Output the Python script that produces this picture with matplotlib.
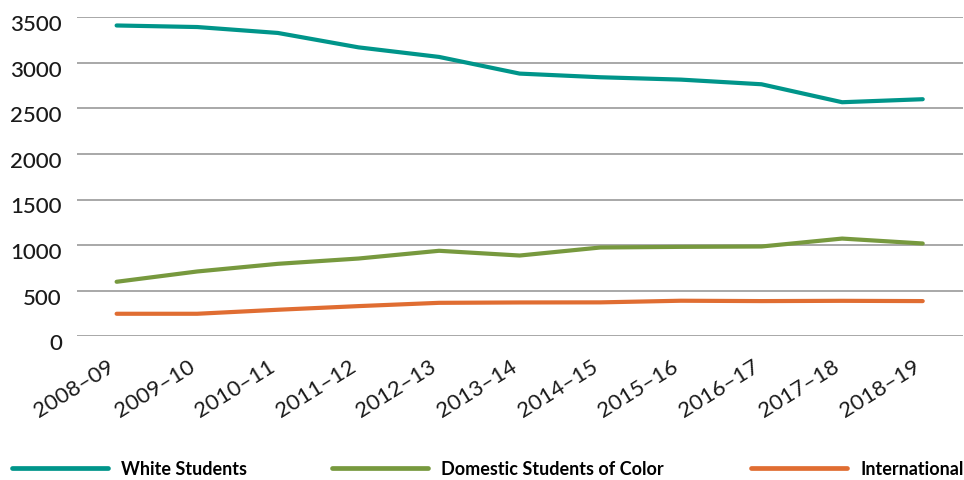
import matplotlib
matplotlib.use("Agg")
import matplotlib.pyplot as plt
from matplotlib.transforms import ScaledTranslation

years = ["2008–09", "2009–10", "2010–11", "2011–12", "2012–13", "2013–14",
         "2014–15", "2015–16", "2016–17", "2017–18", "2018–19"]
white = [3410, 3393, 3328, 3170, 3065, 2882, 2842, 2816, 2765, 2568, 2601]
color_students = [598, 711, 795, 853, 938, 886, 974, 981, 985, 1072, 1018]
international = [247, 247, 291, 331, 367, 371, 372, 390, 386, 389, 386]
yticks = [0, 500, 1000, 1500, 2000, 2500, 3000, 3500]

series = [("White Students", white, "#00958a"),
          ("Domestic Students of Color", color_students, "#77993e"),
          ("International", international, "#e06d32")]

plt.rcParams['font.family'] = ['Lato', 'DejaVu Sans']

fig = plt.figure(figsize=(9.64, 4.81), dpi=100)
ax = fig.add_axes([0.080, 0.2988, 0.919, 0.6632])

handles = []
x = list(range(len(years)))
for name, vals, col in series:
    ln, = ax.plot(x, vals, color=col, lw=3.0, solid_capstyle='round', label=name)
    handles.append(ln)

ax.set_xlim(-0.49, 10.5)
ax.set_ylim(0, 3500)
ax.set_yticks(yticks)
ax.set_yticklabels([str(v) for v in yticks], fontsize=16, color="#1a1a1a",
                   fontweight='medium')
ax.set_xticks(x)
ax.set_xticklabels(years, rotation=32, ha='right', rotation_mode='anchor',
                   fontsize=16, color="#1a1a1a")
ax.tick_params(axis='both', length=0)
ax.tick_params(axis='y', pad=11)
ax.tick_params(axis='x', pad=14)
xoff = ScaledTranslation(-7 / 72, 0, fig.dpi_scale_trans)
for lab in ax.get_xticklabels():
    lab.set_transform(lab.get_transform() + xoff)
yoff = ScaledTranslation(0, -3.5 / 72, fig.dpi_scale_trans)
for lab in ax.get_yticklabels():
    lab.set_transform(lab.get_transform() + yoff)
ax.grid(axis='y', color="#999999", lw=1.2)
ax.set_axisbelow(True)
for s in ax.spines.values():
    s.set_visible(False)

positions = [(12 / 964, 11 / 481), (332 / 964, 11 / 481), (751 / 964, 11 / 481)]
for h, (px, py) in zip(handles, positions):
    leg = fig.legend(handles=[h], labels=[h.get_label()], loc='center left',
                     bbox_to_anchor=(px, py), frameon=False, handlelength=5.3,
                     handletextpad=0.75, borderaxespad=0, borderpad=0,
                     prop={'size': 13, 'weight': 'bold'})
    for l in leg.get_lines():
        l.set_linewidth(3.4)

fig.savefig("out.png", dpi=100, facecolor="white")
